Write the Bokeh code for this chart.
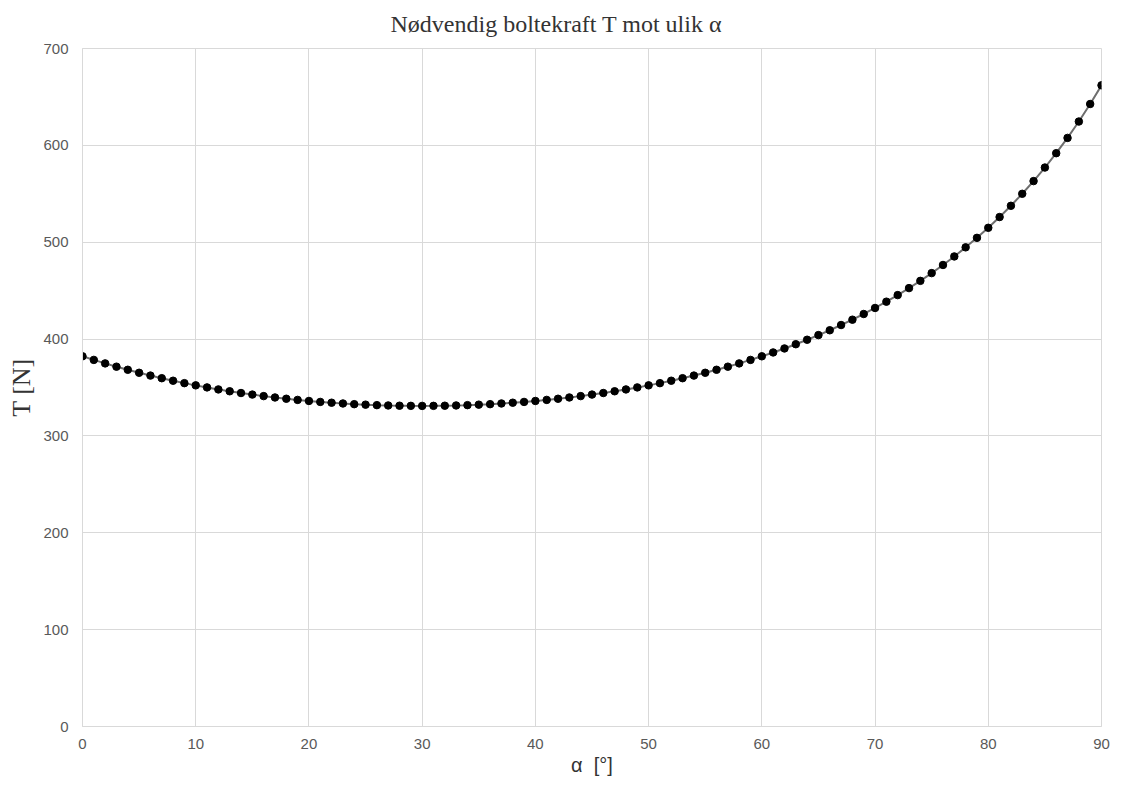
from bokeh.plotting import figure
from bokeh.embed import file_html
from bokeh.resources import INLINE
from bokeh.models import FixedTicker, ColumnDataSource

alpha = list(range(0, 91))
T = [382.2, 378.5, 374.9, 371.5, 368.3, 365.2, 362.3, 359.6, 357.0, 354.5,
     352.2, 350.1, 348.0, 346.1, 344.3, 342.7, 341.1, 339.7, 338.4, 337.2,
     336.1, 335.1, 334.3, 333.5, 332.8, 332.3, 331.8, 331.45, 331.2, 331.05,
     331.0,
     331.05, 331.2, 331.45, 331.8, 332.3, 332.8, 333.5, 334.3, 335.1, 336.1,
     337.2, 338.4, 339.7, 341.1, 342.7, 344.3, 346.1, 348.0, 350.1, 352.2,
     354.5, 357.0, 359.6, 362.3, 365.2, 368.3, 371.5, 374.9, 378.5, 382.2,
     386.2, 390.3, 394.7, 399.3, 404.1, 409.1, 414.5, 420.0, 425.9, 432.1,
     438.6, 445.4, 452.6, 460.1, 468.1, 476.5, 485.3, 494.7, 504.5, 514.9,
     526.0, 537.6, 550.0, 563.1, 577.1, 591.9, 607.7, 624.6, 642.7, 662.0]
x_ticks = list(range(0, 91, 10))
y_ticks = list(range(0, 701, 100))
title_text = "Nødvendig boltekraft T mot ulik α"
x_label = "α\u00a0 [°]"
y_label = "T [N]"

src = ColumnDataSource(dict(a=alpha, t=T))

p = figure(width=1110, height=778, output_backend="svg", toolbar_location=None,
           x_range=(0, 90), y_range=(0, 700), title=title_text,
           min_border_left=82, min_border_right=9, min_border_top=48, min_border_bottom=50)

p.title.align = "left"
p.title.offset = 308
p.title.vertical_align = "top"
p.title.standoff = 19
p.title.text_font = "Liberation Serif"
p.title.text_font_size = "24px"
p.title.text_font_style = "normal"
p.title.text_color = "#333333"

p.line("a", "t", source=src, line_color="#6e6e6e", line_width=2)
p.scatter("a", "t", source=src, size=7.5, fill_color="black", line_color="black")

for ax in (p.xaxis[0], p.yaxis[0]):
    ax.axis_line_color = "#d9d9d9"
    ax.major_tick_line_color = None
    ax.minor_tick_line_color = None
    ax.major_tick_out = 0
    ax.major_tick_in = 0
    ax.major_label_text_font = "Liberation Sans"
    ax.major_label_text_font_size = "15px"
    ax.major_label_text_color = "#595959"

p.xaxis[0].ticker = FixedTicker(ticks=x_ticks)
p.yaxis[0].ticker = FixedTicker(ticks=y_ticks)
p.xaxis[0].major_label_standoff = 12
p.yaxis[0].major_label_standoff = 14

p.xaxis.axis_label = x_label
p.xaxis.axis_label_text_font = "Liberation Sans"
p.xaxis.axis_label_text_font_size = "20px"
p.xaxis.axis_label_text_font_style = "normal"
p.xaxis.axis_label_text_color = "#333333"
p.xaxis.axis_label_standoff = 2

p.yaxis.axis_label = y_label
p.yaxis.axis_label_text_font = "Liberation Serif"
p.yaxis.axis_label_text_font_size = "26px"
p.yaxis.axis_label_text_font_style = "normal"
p.yaxis.axis_label_text_color = "#333333"
p.yaxis.axis_label_standoff = 4

p.xgrid.ticker = FixedTicker(ticks=x_ticks)
p.ygrid.ticker = FixedTicker(ticks=y_ticks)
p.grid.grid_line_color = "#d9d9d9"
p.grid.grid_line_width = 1
p.outline_line_color = "#d9d9d9"
p.background_fill_color = "white"
p.border_fill_color = "white"

open("out.html", "w").write(file_html(p, INLINE))
